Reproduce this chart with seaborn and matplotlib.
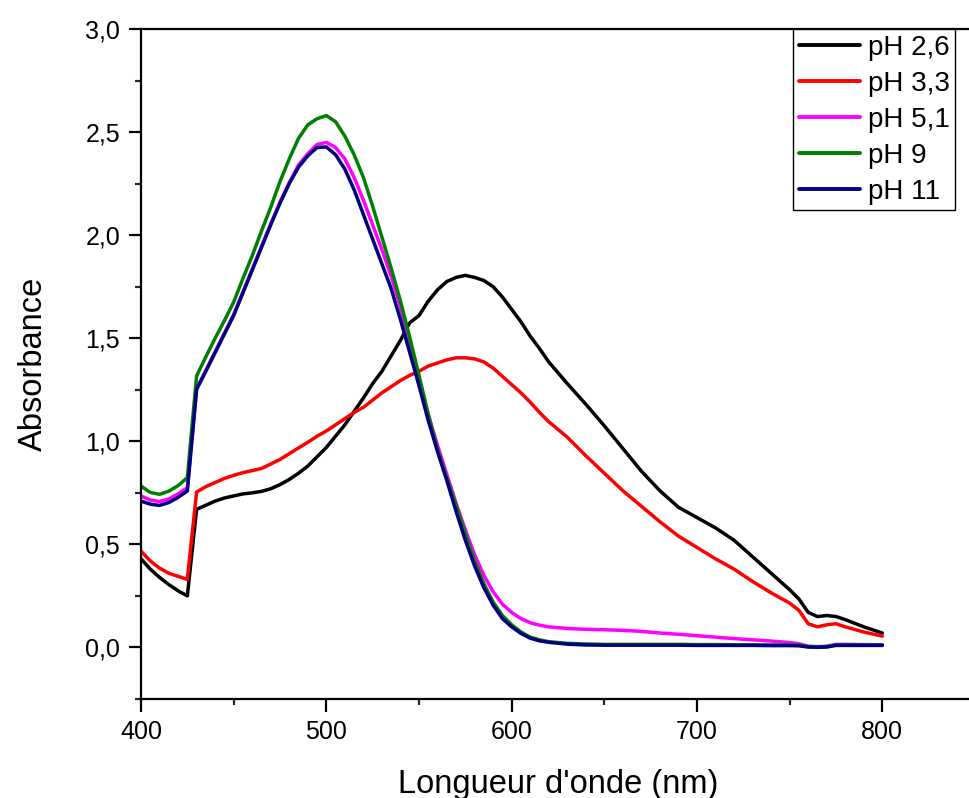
import numpy as np
import pandas as pd
import matplotlib
matplotlib.use("Agg")
import matplotlib.pyplot as plt
import seaborn as sns
from matplotlib.ticker import MultipleLocator, FuncFormatter
from matplotlib.lines import Line2D

# ---------------- data ----------------
wavelength = [400, 405, 410, 415, 420, 425, 430, 435, 440, 445, 450, 455, 460, 465, 470,
              475, 480, 485, 490, 495, 500, 505, 510, 515, 520, 525, 530, 535, 540, 545,
              550, 555, 560, 565, 570, 575, 580, 585, 590, 595, 600, 605, 610, 615, 620,
              630, 640, 650, 660, 670, 680, 690, 700, 710, 720, 730, 740, 750,
              755, 760, 765, 770, 775, 780, 790, 800]

ph_2_6 = [0.43, 0.38, 0.34, 0.305, 0.275, 0.25,
          0.67, 0.69, 0.71, 0.725, 0.735, 0.745, 0.75, 0.757, 0.77, 0.79, 0.815, 0.845, 0.88,
          0.925, 0.97, 1.025, 1.08, 1.145, 1.21, 1.28, 1.34, 1.415, 1.49, 1.575, 1.61, 1.68,
          1.735, 1.775, 1.795, 1.805, 1.795, 1.78, 1.75, 1.70, 1.64, 1.58, 1.51, 1.45, 1.385,
          1.28, 1.18, 1.075, 0.965, 0.855, 0.76, 0.68, 0.63, 0.58, 0.52, 0.44, 0.36, 0.28,
          0.235, 0.17, 0.15, 0.155, 0.15, 0.135, 0.10, 0.07]

ph_3_3 = [0.467, 0.42, 0.385, 0.36, 0.345, 0.33,
          0.754, 0.78, 0.80, 0.82, 0.835, 0.848, 0.858, 0.868, 0.89, 0.912, 0.94, 0.968, 0.995,
          1.025, 1.05, 1.08, 1.11, 1.14, 1.165, 1.20, 1.235, 1.265, 1.295, 1.32, 1.34, 1.365,
          1.38, 1.395, 1.405, 1.405, 1.40, 1.385, 1.355, 1.315, 1.275, 1.235, 1.19, 1.14, 1.095,
          1.02, 0.93, 0.845, 0.76, 0.685, 0.61, 0.54, 0.485, 0.43, 0.38, 0.32, 0.265, 0.215,
          0.18, 0.115, 0.10, 0.11, 0.115, 0.10, 0.075, 0.055]

ph_5_1 = [0.735, 0.715, 0.708, 0.72, 0.745, 0.775,
          1.255, 1.345, 1.435, 1.525, 1.615, 1.725, 1.835, 1.945, 2.055, 2.16, 2.255, 2.34, 2.395,
          2.44, 2.45, 2.425, 2.37, 2.28, 2.17, 2.05, 1.93, 1.80, 1.65, 1.48, 1.30, 1.13,
          0.98, 0.84, 0.70, 0.57, 0.45, 0.35, 0.27, 0.21, 0.17, 0.14, 0.12, 0.108, 0.10,
          0.092, 0.088, 0.086, 0.083, 0.078, 0.07, 0.064, 0.057, 0.05, 0.043, 0.037, 0.031, 0.024,
          0.018, 0.006, 0.004, 0.006, 0.015, 0.015, 0.014, 0.013]

ph_9 = [0.783, 0.752, 0.743, 0.758, 0.785, 0.824,
        1.317, 1.41, 1.50, 1.585, 1.675, 1.79, 1.90, 2.02, 2.135, 2.26, 2.37, 2.47, 2.535,
        2.565, 2.58, 2.55, 2.48, 2.39, 2.28, 2.14, 1.99, 1.84, 1.68, 1.505, 1.32, 1.13,
        0.96, 0.82, 0.69, 0.55, 0.42, 0.31, 0.22, 0.155, 0.11, 0.075, 0.05, 0.037, 0.028,
        0.02, 0.017, 0.015, 0.015, 0.015, 0.015, 0.015, 0.014, 0.014, 0.013, 0.013, 0.012, 0.012,
        0.011, 0.004, 0.003, 0.004, 0.012, 0.012, 0.012, 0.012]

ph_11 = [0.71, 0.695, 0.689, 0.703, 0.728, 0.759,
         1.252, 1.34, 1.43, 1.52, 1.61, 1.72, 1.83, 1.94, 2.05, 2.155, 2.25, 2.33, 2.385,
         2.425, 2.428, 2.39, 2.32, 2.22, 2.10, 1.98, 1.86, 1.74, 1.59, 1.43, 1.27, 1.10,
         0.95, 0.81, 0.66, 0.52, 0.395, 0.29, 0.205, 0.14, 0.10, 0.068, 0.045, 0.032, 0.025,
         0.016, 0.012, 0.011, 0.011, 0.011, 0.011, 0.011, 0.01, 0.01, 0.01, 0.01, 0.009, 0.009,
         0.008, 0.002, 0.001, 0.002, 0.01, 0.01, 0.01, 0.01]

labels = ["pH 2,6", "pH 3,3", "pH 5,1", "pH 9", "pH 11"]
colors = ["#000000", "#FF0000", "#FF00FF", "#008000", "#000080"]
series = [ph_2_6, ph_3_3, ph_5_1, ph_9, ph_11]

x_ticks = [400, 500, 600, 700, 800]
y_ticks = [0.0, 0.5, 1.0, 1.5, 2.0, 2.5, 3.0]

df = pd.concat(
    [pd.DataFrame({"wl": wavelength, "A": s, "label": lab}) for s, lab in zip(series, labels)],
    ignore_index=True,
)

# ---------------- style ----------------
sns.set_style("ticks")
plt.rcParams["font.family"] = ["Liberation Sans", "DejaVu Sans"]
plt.rcParams["text.color"] = "black"
plt.rcParams["axes.labelcolor"] = "black"

fig = plt.figure(figsize=(9.7, 7.98), dpi=100)
# axes extends slightly beyond the right edge of the figure (as in the reference crop)
ax = fig.add_axes([141 / 970, 1 - 699 / 798, 834 / 970, 670 / 798])

sns.lineplot(data=df, x="wl", y="A", hue="label", hue_order=labels,
             palette=colors, linewidth=2.5, sort=False, estimator=None, ax=ax,
             legend=False)

ax.set_xlim(400, 850)
ax.set_ylim(-0.25, 3.0)
ax.set_xticks(x_ticks)
ax.set_yticks(y_ticks)
ax.xaxis.set_minor_locator(MultipleLocator(50))
ax.yaxis.set_minor_locator(MultipleLocator(0.25))
ax.xaxis.set_major_formatter(FuncFormatter(lambda v, p: f"{v:.0f}"))
ax.yaxis.set_major_formatter(FuncFormatter(lambda v, p: f"{v:.1f}".replace(".", ",")))

ax.tick_params(axis="both", which="major", direction="out", length=9, width=1.6,
               labelsize=18, colors="black", pad=6)
ax.tick_params(axis="both", which="minor", direction="out", length=4.5, width=1.6)
for side in ["left", "bottom", "top", "right"]:
    ax.spines[side].set_linewidth(1.6)
    ax.spines[side].set_color("black")

ax.set_xlabel("Longueur d'onde (nm)", fontsize=23.5, labelpad=18, color="black")
ax.set_ylabel("Absorbance", fontsize=23.5, labelpad=26, color="black")

handles = [Line2D([0], [0], color=c, lw=2.8) for c in colors]
leg = ax.legend(handles, labels, loc="upper left",
                bbox_to_anchor=(793 / 970, 1 - 29 / 798), bbox_transform=fig.transFigure,
                fontsize=20, frameon=True, fancybox=False, framealpha=1,
                edgecolor="black", borderpad=0.2, labelspacing=0.36,
                handlelength=2.2, handletextpad=0.3, borderaxespad=0)
leg.get_frame().set_linewidth(1.0)
for t in leg.get_texts():
    t.set_color("black")

fig.savefig("out.png", dpi=100)
